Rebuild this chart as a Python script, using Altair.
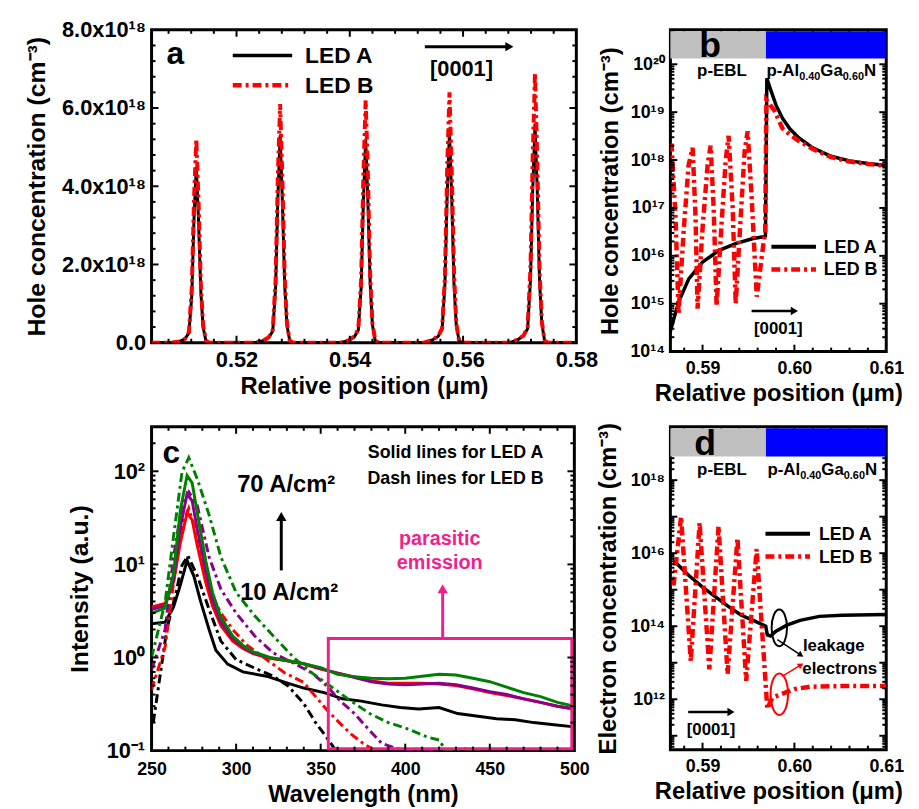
import math
import altair as alt
import pandas as pd

FONT = "Liberation Sans"
BLACK = "#000000"
RED = "#ff0000"
PURPLE = "#8b008b"
GREEN = "#008000"
PINK = "#ef1f8d"
GREY = "#c0c0c0"
BLUE = "#0000ff"
DASHDOT = [9, 4, 3, 4]

# ---------------- Panel a : hole concentration in the MQWs (x10^18 cm^-3) ----------------
a_position = [
    0.5050,
    0.5084, 0.5099, 0.5109, 0.5116, 0.5121, 0.5125, 0.5129, 0.5133, 0.5137, 0.5141, 0.5146, 0.5152,
    0.5232, 0.5247, 0.5257, 0.5264, 0.5269, 0.5273, 0.5277, 0.5281, 0.5285, 0.5289, 0.5294, 0.5300,
    0.5383, 0.5398, 0.5408, 0.5415, 0.5420, 0.5424, 0.5428, 0.5432, 0.5436, 0.5440, 0.5445, 0.5451,
    0.5531, 0.5546, 0.5556, 0.5563, 0.5568, 0.5572, 0.5576, 0.5580, 0.5584, 0.5588, 0.5593, 0.5599,
    0.5682, 0.5697, 0.5707, 0.5714, 0.5719, 0.5723, 0.5727, 0.5731, 0.5735, 0.5739, 0.5744, 0.5750,
    0.5800]
a_hole_led_a = [
    0,
    0, 0.03, 0.10, 0.25, 1.2, 3.2, 4.5, 3.1, 1.3, 0.40, 0.05, 0,
    0, 0.05, 0.13, 0.30, 1.4, 3.7, 5.3, 3.6, 1.5, 0.45, 0.05, 0,
    0, 0.06, 0.15, 0.32, 1.4, 3.6, 5.2, 3.6, 1.5, 0.45, 0.05, 0,
    0, 0.07, 0.16, 0.34, 1.5, 3.8, 5.4, 3.7, 1.5, 0.45, 0.05, 0,
    0, 0.08, 0.18, 0.36, 1.6, 3.9, 5.6, 3.9, 1.6, 0.50, 0.05, 0,
    0]
a_hole_led_b = [
    0,
    0, 0.03, 0.10, 0.27, 1.4, 3.7, 5.2, 3.6, 1.5, 0.45, 0.05, 0,
    0, 0.05, 0.14, 0.33, 1.6, 4.3, 6.1, 4.2, 1.7, 0.50, 0.05, 0,
    0, 0.06, 0.16, 0.35, 1.6, 4.3, 6.2, 4.3, 1.7, 0.50, 0.05, 0,
    0, 0.07, 0.17, 0.37, 1.7, 4.5, 6.4, 4.4, 1.8, 0.50, 0.05, 0,
    0, 0.08, 0.19, 0.40, 1.9, 4.8, 6.9, 4.7, 1.9, 0.55, 0.05, 0,
    0]

# ---------------- Panel b : hole concentration near p-EBL (cm^-3) ----------------
b_position_led_a = [0.5864, 0.5874, 0.5885, 0.5900, 0.5918, 0.5936, 0.5955, 0.5967, 0.59685, 0.5970,
                    0.5974, 0.5980, 0.5987, 0.5995, 0.6005, 0.6020, 0.6040, 0.6060, 0.6080, 0.6100]
b_hole_led_a = [2.3e14, 1.1e15, 3.3e15, 7.4e15, 1.3e16, 1.8e16, 2.3e16, 2.5e16, 2.6e16, 5.1e19,
                3.0e19, 1.4e19, 7.5e18, 4.5e18, 2.9e18, 1.8e18, 1.2e18, 9.6e17, 8.5e17, 7.7e17]
b_position_led_b = [0.5863, 0.58663, 0.58706, 0.58739, 0.58794, 0.58848, 0.58892, 0.58924, 0.58946, 0.59001,
                    0.59055, 0.59088, 0.59121, 0.59153, 0.59208, 0.59252, 0.59284, 0.59328, 0.59361, 0.59415,
                    0.59459, 0.59491, 0.59535, 0.59590, 0.59633, 0.59666, 0.59682, 0.59695, 0.5978, 0.5987,
                    0.5995, 0.6005, 0.6020, 0.6040, 0.6060, 0.6080, 0.6100]
b_hole_led_b = [2.0e18, 2.0e18, 6.3e16, 6.3e14, 3.2e16, 7.9e17, 1.8e18, 6.3e16, 7.9e14, 4.0e16,
                7.9e17, 2.0e18, 1.0e17, 8.9e14, 5.0e16, 1.0e18, 3.2e18, 1.0e17, 1.0e15, 6.3e16,
                1.6e18, 4.0e18, 1.6e17, 1.4e15, 6.3e15, 2.0e16, 3.0e16, 1.8e19, 1.1e19, 4.6e18,
                3.4e18, 2.5e18, 1.7e18, 1.15e18, 9.3e17, 8.3e17, 7.6e17]

# ---------------- Panel c : EL spectra (a.u.) ----------------
c_wl_a10 = [250, 258, 263, 267, 271, 275, 279, 284, 288, 295, 304, 318, 329, 340, 352, 363, 374, 386,
            397, 408, 420, 431, 442, 454, 465, 476, 488, 500]
c_int_a10 = [2.3, 2.4, 3.5, 6.0, 11, 7.5, 4.0, 2.0, 1.2, 0.85, 0.70, 0.63, 0.54, 0.47, 0.42, 0.36, 0.34, 0.31,
             0.29, 0.28, 0.29, 0.25, 0.235, 0.22, 0.215, 0.20, 0.19, 0.18]
c_wl_a = [250, 258, 263, 267, 271, 274, 277, 282, 286, 291, 298, 304, 310, 320, 330, 340, 350, 360, 370, 380,
          390, 400, 410, 420, 430, 440, 450, 460, 470, 480, 490, 500]
c_int_a30 = [3.5, 3.8, 6.5, 17, 36, 30, 16, 6.4, 3.6, 2.2, 1.5, 1.25, 1.1, 0.98, 0.92, 0.85, 0.75, 0.68, 0.62, 0.56,
             0.53, 0.53, 0.53, 0.52, 0.50, 0.46, 0.42, 0.39, 0.36, 0.33, 0.30, 0.28]
c_int_a50 = [3.3, 3.6, 7.0, 25, 57, 48, 24, 8.5, 4.2, 2.4, 1.6, 1.3, 1.12, 0.99, 0.93, 0.86, 0.76, 0.68, 0.61, 0.55,
             0.52, 0.51, 0.52, 0.53, 0.51, 0.47, 0.43, 0.40, 0.36, 0.33, 0.30, 0.28]
c_int_a70 = [3.0, 3.4, 8.0, 38, 90, 75, 36, 11, 5.0, 2.7, 1.7, 1.35, 1.15, 1.0, 0.93, 0.86, 0.78, 0.66, 0.62, 0.60,
             0.59, 0.60, 0.63, 0.66, 0.65, 0.60, 0.55, 0.48, 0.42, 0.38, 0.33, 0.30]
c_wl_b10 = [251, 259, 264, 268, 271.5, 277, 284, 291, 300, 313, 322, 331, 340, 347, 354, 359]
c_int_b10 = [0.2, 2.0, 4.6, 9.8, 12.3, 7.6, 3.3, 1.5, 0.95, 0.74, 0.63, 0.49, 0.32, 0.20, 0.135, 0.10]
c_wl_b30 = [250, 258, 263, 268, 272, 277, 284, 291, 298, 306, 318, 329, 340, 347, 354, 361, 368, 375, 382]
c_int_b30 = [0.45, 1.3, 6.4, 26, 40, 20, 5.4, 3.0, 2.0, 1.38, 0.95, 0.68, 0.54, 0.38, 0.27, 0.20, 0.15, 0.12, 0.10]
c_wl_b50 = [250, 258, 263, 268, 272, 277, 284, 291, 300, 311, 322, 334, 345, 354, 361, 370, 377, 386, 395, 410, 420]
c_int_b50 = [0.74, 2.0, 12, 43, 60, 43, 12, 5.4, 3.0, 1.7, 1.12, 0.87, 0.68, 0.49, 0.35, 0.25, 0.18, 0.12, 0.105,
             0.10, 0.10]
c_wl_b70 = [250, 258, 263, 268, 272, 277, 284, 291, 300, 311, 322, 334, 345, 356, 367, 379, 390, 402, 413, 420,
            424, 435, 445]
c_int_b70 = [1.0, 3.9, 20, 98, 140, 83, 34, 12, 5.0, 2.8, 1.7, 1.0, 0.68, 0.49, 0.35, 0.25, 0.20, 0.17, 0.14, 0.13,
             0.10, 0.105, 0.10]
c_parasitic_box = {"x0": 354.5, "x1": 498.5, "y0": 1.6, "y1": 0.105}

# ---------------- Panel d : electron concentration (cm^-3) ----------------
d_position_led_a = [0.58684, 0.58854, 0.58997, 0.59138, 0.5928, 0.59422, 0.59564, 0.59688, 0.59705, 0.59741,
                    0.59795, 0.59918, 0.60061, 0.60273, 0.60521, 0.6100]
d_elec_led_a = [6.3e15, 2.4e15, 1.2e15, 6.5e14, 3.5e14, 2.0e14, 1.4e14, 1.0e14, 5.8e13, 5.4e13,
                7.2e13, 1.07e14, 1.45e14, 1.86e14, 2.0e14, 2.1e14]
d_position_led_b = [0.58684, 0.58766, 0.58872, 0.58968, 0.59074, 0.59174, 0.59273, 0.5938, 0.59475, 0.59589,
                    0.59705, 0.59759, 0.6000, 0.60167, 0.60521, 0.6100]
d_elec_led_b = [1.3e15, 1.0e17, 1.1e13, 6.8e16, 6.6e12, 5.5e16, 4.8e12, 2.6e16, 3.2e12, 1.3e16,
                5.5e11, 1.1e12, 1.9e12, 2.2e12, 2.3e12, 2.3e12]

# layer bars (p-EBL / p-AlGaN) for panels b and d
layer_names = ["p-EBL", "p-Al0.40Ga0.60N"]
layer_start = [0.5865, 0.5969]
layer_end = [0.5969, 0.6100]
layer_color = [GREY, BLUE]

# ---------------- helpers ----------------
ONE = pd.DataFrame({"k": [0]})
SUP = str.maketrans("0123456789-", "⁰¹²³⁴⁵⁶⁷⁸⁹⁻")
WIDTH = {"p": 611, "-": 333, "A": 722, "l": 278, "0": 556, ".": 278, "4": 556, "6": 556,
         "G": 778, "a": 556, "N": 722}


def pow_label_expr(labeled):
    expr = "''"
    for e in labeled:
        expr = f"abs(log(datum.value)/LN10-({e}))<0.01 ? '10{str(e).translate(SUP)}' : ({expr})"
    return expr


def text(s, x, y, size, align="center", color=BLACK, baseline="middle"):
    return alt.Chart(ONE).mark_text(text=s, font=FONT, fontSize=size, fontWeight="bold", align=align,
                                    baseline=baseline, color=color).encode(x=alt.value(x), y=alt.value(y))


def segment(x1, y1, x2, y2, color=BLACK, width=3.0, dash=None):
    kw = dict(color=color, strokeWidth=width)
    if dash:
        kw["strokeDash"] = dash
    return alt.Chart(ONE).mark_rule(**kw).encode(x=alt.value(x1), y=alt.value(y1),
                                                 x2=alt.value(x2), y2=alt.value(y2))


def arrow(x1, y1, x2, y2, color=BLACK, width=2.5, head=80):
    ang = math.degrees(math.atan2(x2 - x1, -(y2 - y1))) % 360
    return [segment(x1, y1, x2, y2, color, width),
            alt.Chart(ONE).mark_point(shape="triangle", filled=True, color=color, size=head, angle=ang,
                                      opacity=1).encode(x=alt.value(x2), y=alt.value(y2))]


def ellipse(x, y, h, color):
    path = "M 0 -1 A 0.42 1 0 1 1 0 1 A 0.42 1 0 1 1 0 -1 Z"
    return alt.Chart(ONE).mark_point(shape=path, size=h * h, filled=False, color=color, strokeWidth=2,
                                     opacity=1).encode(x=alt.value(x), y=alt.value(y))


def formula(x, y, size, sub):
    out = []
    cur = x
    for s, small in [("p-Al", False), ("0.40", True), ("Ga", False), ("0.60", True), ("N", False)]:
        fs = sub if small else size
        out.append(text(s, cur, y + (6 if small else 0), fs, align="left"))
        cur += sum(WIDTH.get(ch, 556) for ch in s) / 1000 * fs
    return out


def label_axis(orient, values, title, lsize, tsize, lpad, tpad, fmt=None, expr=None):
    kw = dict(orient=orient, values=values, title=title, labelFontSize=lsize, titleFontSize=tsize,
              labelPadding=lpad, titlePadding=tpad, ticks=False, domain=False, grid=False,
              labelFlush=False, labelOverlap=False)
    if fmt:
        kw["format"] = fmt
    if expr:
        kw["labelExpr"] = expr
    return alt.Axis(**kw)


def frac(v, dom, log):
    if log:
        return (math.log10(v) - math.log10(dom[0])) / (math.log10(dom[1]) - math.log10(dom[0]))
    return (v - dom[0]) / (dom[1] - dom[0])


def frame_ticks(W, H, xdom, ydom, xlog, ylog, xmaj, xmin, ymaj, ymin, major=7, minor=4):
    """Inward tick marks on the four sides of the panel frame (axis decoration)."""
    out = []
    for vals, n in [(xmaj, major), (xmin, minor)]:
        for v in vals:
            px = W * frac(v, xdom, xlog)
            out.append(segment(px, H, px, H - n, BLACK, 2))
            out.append(segment(px, 0, px, n, BLACK, 2))
    for vals, n in [(ymaj, major), (ymin, minor)]:
        for v in vals:
            py = H * (1 - frac(v, ydom, ylog))
            out.append(segment(0, py, n, py, BLACK, 2))
            out.append(segment(W, py, W - n, py, BLACK, 2))
    return out


def curve(df, xf, yf, xs, ys, color, width, dash=None, xaxis=None, yaxis=None):
    kw = dict(color=color, strokeWidth=width, clip=True)
    if dash:
        kw["strokeDash"] = dash
    return alt.Chart(df).mark_line(**kw).encode(
        x=alt.X(f"{xf}:Q", scale=xs, axis=xaxis),
        y=alt.Y(f"{yf}:Q", scale=ys, axis=yaxis))


def log_minor(lo, hi, emin, emax):
    return [k * 10.0 ** e for e in range(emin, emax + 1) for k in range(2, 10) if lo < k * 10.0 ** e < hi]


def panel(layers, w, h):
    return alt.layer(*layers).resolve_axis(x="independent", y="independent").properties(width=w, height=h)


# ---------------- Panel a ----------------
WA, HA = 429, 316
A_XDOM, A_YDOM = [0.505, 0.58], [0, 8]
df_a = pd.DataFrame({"pos": a_position, "A": a_hole_led_a, "B": a_hole_led_b})
xs_a = alt.Scale(domain=A_XDOM, nice=False, zero=False)
ys_a = alt.Scale(domain=A_YDOM, nice=False)
a_xmaj = [0.52, 0.54, 0.56]
a_xmin = [0.508, 0.512, 0.516, 0.524, 0.528, 0.532, 0.536, 0.544, 0.548, 0.552, 0.556,
          0.564, 0.568, 0.572, 0.576]
a_ymaj = [2, 4, 6]
a_ymin = [0.4, 0.8, 1.2, 1.6, 2.4, 2.8, 3.2, 3.6, 4.4, 4.8, 5.2, 5.6, 6.4, 6.8, 7.2, 7.6]
a_layers = [
    curve(df_a, "pos", "A", xs_a, ys_a, BLACK, 3,
          xaxis=label_axis("bottom", [0.52, 0.54, 0.56, 0.58], "Relative position (μm)", 22, 24, 7, 4,
                           fmt=".2f"),
          yaxis=label_axis("left", [0, 2, 4, 6, 8], "Hole concentration (cm⁻³)", 22, 25, 6, 12,
                           expr="datum.value == 0 ? '0.0' : format(datum.value, '.1f') + 'x10¹⁸'")),
    curve(df_a, "pos", "B", xs_a, ys_a, RED, 4, dash=DASHDOT),
    *frame_ticks(WA, HA, A_XDOM, A_YDOM, False, False, a_xmaj, a_xmin, a_ymaj, a_ymin),
    text("a", 24, 25, 32),
    segment(82, 26, 142, 26, BLACK, 3.5),
    segment(82, 56, 142, 56, RED, 4.5, DASHDOT),
    text("LED A", 155, 27, 23, align="left"),
    text("LED B", 155, 57, 23, align="left"),
    *arrow(276, 17, 360, 17, BLACK, 3, 90),
    text("[0001]", 313, 40, 22),
]
panel_a = panel(a_layers, WA, HA)

# ---------------- Panel b ----------------
WB, HB = 218, 325
POS_DOM = [0.5865, 0.61]
B_YDOM = [1e14, 10 ** 20.72]
df_ba = pd.DataFrame({"pos": b_position_led_a, "n": b_hole_led_a})
df_bb = pd.DataFrame({"pos": b_position_led_b, "n": b_hole_led_b})
df_layers = pd.DataFrame({"name": layer_names, "x0": layer_start, "x1": layer_end, "color": layer_color})
xs_b = alt.Scale(domain=POS_DOM, nice=False, zero=False)
ys_b = alt.Scale(type="log", domain=B_YDOM, nice=False)
pos_maj = [0.59, 0.60]
pos_min = [0.588, 0.592, 0.594, 0.596, 0.598, 0.602, 0.604, 0.606, 0.608]
b_ymaj = [10.0 ** e for e in range(15, 21)]
b_ymin = log_minor(B_YDOM[0], B_YDOM[1], 14, 20)


def layer_bar(xs, h):
    return alt.Chart(df_layers).mark_rect().encode(
        x=alt.X("x0:Q", scale=xs, axis=None), x2="x1:Q",
        y=alt.value(1.5), y2=alt.value(h),
        color=alt.Color("color:N", scale=None, legend=None))


b_layers = [
    curve(df_ba, "pos", "n", xs_b, ys_b, BLACK, 3.5,
          xaxis=label_axis("bottom", [0.59, 0.60, 0.61], "Relative position (μm)", 18, 24, 8, 4, fmt=".2f"),
          yaxis=label_axis("left", [10.0 ** e for e in range(14, 21)], "Hole concentration (cm⁻³)", 18, 24,
                           6, 8, expr=pow_label_expr(range(14, 21)))),
    curve(df_bb, "pos", "n", xs_b, ys_b, RED, 4.5, dash=DASHDOT),
    *frame_ticks(WB, HB, POS_DOM, B_YDOM, False, True, pos_maj, pos_min, b_ymaj, b_ymin),
    layer_bar(xs_b, 29),
    text("b", 40, 16, 36),
    text("p-EBL", 52, 42, 17),
    *formula(97, 42, 17, 11),
    segment(102, 219, 147, 219, BLACK, 4),
    segment(102, 242, 147, 242, RED, 4.5, DASHDOT),
    text("LED A", 155, 220, 18, align="left"),
    text("LED B", 155, 243, 18, align="left"),
    *arrow(82, 284, 124, 284, BLACK, 2.5, 70),
    text("[0001]", 109, 302, 17),
]
panel_b = panel(b_layers, WB, HB)

# ---------------- Panel c ----------------
WC, HC = 427, 327
C_XDOM, C_YDOM = [250, 500], [0.1, 300]
xs_c = alt.Scale(domain=C_XDOM, nice=False, zero=False)
ys_c = alt.Scale(type="log", domain=C_YDOM, nice=False)
c_xmaj = [300, 350, 400, 450]
c_xmin = [v for v in range(260, 500, 10) if v % 50]
c_ymaj = [1, 10, 100]
c_ymin = log_minor(C_YDOM[0], C_YDOM[1], -1, 2)


def cdf(x, y):
    return pd.DataFrame({"wl": x, "i": y})


df_box = pd.DataFrame([c_parasitic_box])
c_layers = [
    curve(cdf(c_wl_a10, c_int_a10), "wl", "i", xs_c, ys_c, BLACK, 3,
          xaxis=label_axis("bottom", [250, 300, 350, 400, 450, 500], "Wavelength (nm)", 18, 24, 10, 4, fmt="d"),
          yaxis=label_axis("left", [0.1, 1, 10, 100], "Intensity (a.u.)", 22, 25, 7, 14,
                           expr=pow_label_expr([-1, 0, 1, 2]))),
    curve(cdf(c_wl_b10, c_int_b10), "wl", "i", xs_c, ys_c, BLACK, 3, dash=DASHDOT),
    curve(cdf(c_wl_a, c_int_a30), "wl", "i", xs_c, ys_c, RED, 3),
    curve(cdf(c_wl_b30, c_int_b30), "wl", "i", xs_c, ys_c, RED, 3, dash=DASHDOT),
    curve(cdf(c_wl_a, c_int_a50), "wl", "i", xs_c, ys_c, PURPLE, 3),
    curve(cdf(c_wl_b50, c_int_b50), "wl", "i", xs_c, ys_c, PURPLE, 3, dash=DASHDOT),
    curve(cdf(c_wl_a, c_int_a70), "wl", "i", xs_c, ys_c, GREEN, 3),
    curve(cdf(c_wl_b70, c_int_b70), "wl", "i", xs_c, ys_c, GREEN, 3, dash=DASHDOT),
    alt.Chart(df_box).mark_rect(filled=False, color=PINK, strokeWidth=3).encode(
        x=alt.X("x0:Q", scale=xs_c, axis=None), x2="x1:Q",
        y=alt.Y("y0:Q", scale=ys_c, axis=None), y2="y1:Q"),
    *frame_ticks(WC, HC, C_XDOM, C_YDOM, False, True, c_xmaj, c_xmin, c_ymaj, c_ymin),
    text("c", 20, 27, 32),
    text("Solid lines for LED A", 307, 26, 18),
    text("Dash lines for LED B", 307, 53, 18),
    text("70 A/cm²", 136, 59, 24),
    text("10 A/cm²", 139, 168, 24),
    *arrow(131, 145, 131, 92, BLACK, 3, 110),
    text("parasitic", 291, 113, 20, color=PINK),
    text("emission", 291, 138, 20, color=PINK),
    *arrow(294, 213, 294, 165, PINK, 3, 110),
]
panel_c = panel(c_layers, WC, HC)

# ---------------- Panel d ----------------
WD, HD = 218, 326
D_YDOM = [10 ** 10.62, 10 ** 19.46]
df_da = pd.DataFrame({"pos": d_position_led_a, "n": d_elec_led_a})
df_db = pd.DataFrame({"pos": d_position_led_b, "n": d_elec_led_b})
ys_d = alt.Scale(type="log", domain=D_YDOM, nice=False)
d_ymaj = [10.0 ** e for e in range(11, 20)]
d_ymin = log_minor(D_YDOM[0], D_YDOM[1], 10, 19)
d_layers = [
    curve(df_da, "pos", "n", xs_b, ys_d, BLACK, 3.5,
          xaxis=label_axis("bottom", [0.59, 0.60, 0.61], "Relative position (μm)", 18, 24, 8, 4, fmt=".2f"),
          yaxis=label_axis("left", [1e12, 1e14, 1e16, 1e18], "Electron concentration (cm⁻³)", 18, 24, 6, 10,
                           expr=pow_label_expr([12, 14, 16, 18]))),
    curve(df_db, "pos", "n", xs_b, ys_d, RED, 4.5, dash=DASHDOT),
    *frame_ticks(WD, HD, POS_DOM, D_YDOM, False, True, pos_maj, pos_min, d_ymaj, d_ymin),
    layer_bar(xs_b, 30),
    text("d", 35, 17, 36),
    text("p-EBL", 52, 44, 17),
    *formula(98, 44, 17, 11),
    segment(96, 108, 141, 108, BLACK, 4),
    segment(96, 131, 141, 131, RED, 4.5, DASHDOT),
    text("LED A", 150, 109, 18, align="left"),
    text("LED B", 150, 132, 18, align="left"),
    ellipse(110, 203, 37, BLACK),
    ellipse(110, 270, 42, RED),
    *arrow(108, 215, 131, 230, BLACK, 1.5, 45),
    *arrow(113, 252, 131, 241, RED, 1.5, 45),
    text("leakage", 165, 221, 17),
    text("electrons", 171, 245, 17),
    *arrow(18, 288, 60, 288, BLACK, 2.5, 70),
    text("[0001]", 41, 306, 17),
]
panel_d = panel(d_layers, WD, HD)

chart = alt.concat(panel_a, panel_b, panel_c, panel_d, columns=2,
                   spacing={"row": 76, "column": 95}, bounds="flush").properties(
    padding={"left": 15, "top": 5, "right": 5, "bottom": 5}, background="white"
).configure_view(stroke=BLACK, strokeWidth=3).configure_axis(
    labelFont=FONT, titleFont=FONT, labelFontWeight="bold", titleFontWeight="bold",
    labelColor=BLACK, titleColor=BLACK)

chart.save("out.html", embed_options={"renderer": "svg", "actions": False})
